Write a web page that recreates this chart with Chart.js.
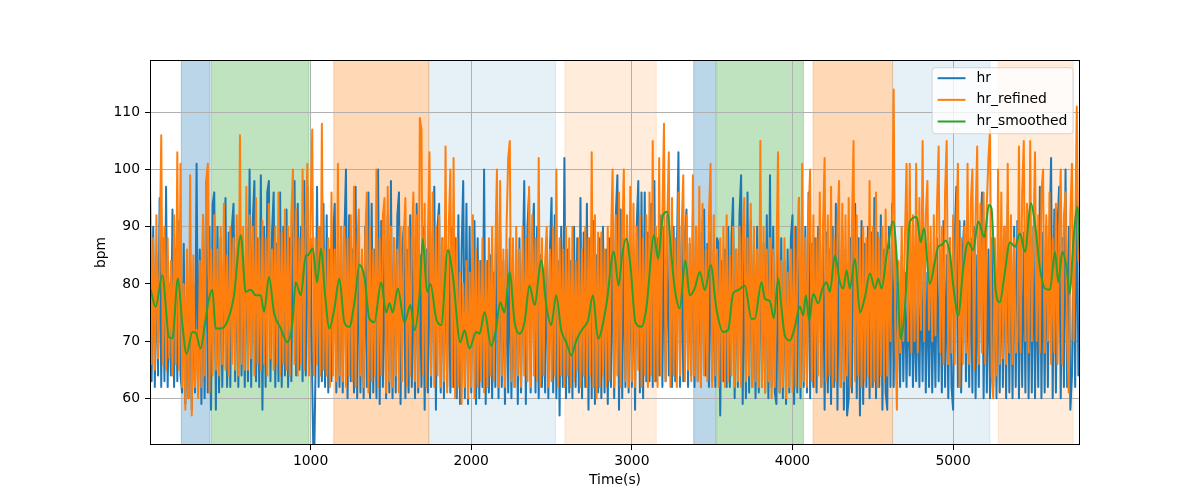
<!DOCTYPE html>
<html>
<head>
<meta charset="utf-8">
<script src="https://cdn.jsdelivr.net/npm/chart.js@4.4.0/dist/chart.umd.min.js"></script>
<style>
html, body { margin: 0; padding: 0; background: #fff; }
#wrap { width: 1200px; height: 500px; }
</style>
</head>
<body>
<div id="wrap"><canvas id="hrChart" width="1200" height="500"></canvas></div>
<script>
// sample times (s) for hr and hr_refined
var sampleTime = [
    0, 10, 20, 30, 40, 50, 60, 70, 80, 90,
    100, 110, 120, 130, 140, 150, 160, 170, 180, 190,
    200, 210, 220, 230, 240, 250, 260, 270, 280, 290,
    300, 310, 320, 330, 340, 350, 360, 370, 380, 390,
    400, 410, 420, 430, 440, 450, 460, 470, 480, 490,
    500, 510, 520, 530, 540, 550, 560, 570, 580, 590,
    600, 610, 620, 630, 640, 650, 660, 670, 680, 690,
    700, 710, 720, 730, 740, 750, 760, 770, 780, 790,
    800, 810, 820, 830, 840, 850, 860, 870, 880, 890,
    900, 910, 920, 930, 940, 950, 960, 970, 980, 990,
    1000, 1010, 1020, 1030, 1040, 1050, 1060, 1070, 1080, 1090,
    1100, 1110, 1120, 1130, 1140, 1150, 1160, 1170, 1180, 1190,
    1200, 1210, 1220, 1230, 1240, 1250, 1260, 1270, 1280, 1290,
    1300, 1310, 1320, 1330, 1340, 1350, 1360, 1370, 1380, 1390,
    1400, 1410, 1420, 1430, 1440, 1450, 1460, 1470, 1480, 1490,
    1500, 1510, 1520, 1530, 1540, 1550, 1560, 1570, 1580, 1590,
    1600, 1610, 1620, 1630, 1640, 1650, 1660, 1670, 1680, 1690,
    1700, 1710, 1720, 1730, 1740, 1750, 1760, 1770, 1780, 1790,
    1800, 1810, 1820, 1830, 1840, 1850, 1860, 1870, 1880, 1890,
    1900, 1910, 1920, 1930, 1940, 1950, 1960, 1970, 1980, 1990,
    2000, 2010, 2020, 2030, 2040, 2050, 2060, 2070, 2080, 2090,
    2100, 2110, 2120, 2130, 2140, 2150, 2160, 2170, 2180, 2190,
    2200, 2210, 2220, 2230, 2240, 2250, 2260, 2270, 2280, 2290,
    2300, 2310, 2320, 2330, 2340, 2350, 2360, 2370, 2380, 2390,
    2400, 2410, 2420, 2430, 2440, 2450, 2460, 2470, 2480, 2490,
    2500, 2510, 2520, 2530, 2540, 2550, 2560, 2570, 2580, 2590,
    2600, 2610, 2620, 2630, 2640, 2650, 2660, 2670, 2680, 2690,
    2700, 2710, 2720, 2730, 2740, 2750, 2760, 2770, 2780, 2790,
    2800, 2810, 2820, 2830, 2840, 2850, 2860, 2870, 2880, 2890,
    2900, 2910, 2920, 2930, 2940, 2950, 2960, 2970, 2980, 2990,
    3000, 3010, 3020, 3030, 3040, 3050, 3060, 3070, 3080, 3090,
    3100, 3110, 3120, 3130, 3140, 3150, 3160, 3170, 3180, 3190,
    3200, 3210, 3220, 3230, 3240, 3250, 3260, 3270, 3280, 3290,
    3300, 3310, 3320, 3330, 3340, 3350, 3360, 3370, 3380, 3390,
    3400, 3410, 3420, 3430, 3440, 3450, 3460, 3470, 3480, 3490,
    3500, 3510, 3520, 3530, 3540, 3550, 3560, 3570, 3580, 3590,
    3600, 3610, 3620, 3630, 3640, 3650, 3660, 3670, 3680, 3690,
    3700, 3710, 3720, 3730, 3740, 3750, 3760, 3770, 3780, 3790,
    3800, 3810, 3820, 3830, 3840, 3850, 3860, 3870, 3880, 3890,
    3900, 3910, 3920, 3930, 3940, 3950, 3960, 3970, 3980, 3990,
    4000, 4010, 4020, 4030, 4040, 4050, 4060, 4070, 4080, 4090,
    4100, 4110, 4120, 4130, 4140, 4150, 4160, 4170, 4180, 4190,
    4200, 4210, 4220, 4230, 4240, 4250, 4260, 4270, 4280, 4290,
    4300, 4310, 4320, 4330, 4340, 4350, 4360, 4370, 4380, 4390,
    4400, 4410, 4420, 4430, 4440, 4450, 4460, 4470, 4480, 4490,
    4500, 4510, 4520, 4530, 4540, 4550, 4560, 4570, 4580, 4590,
    4600, 4610, 4620, 4630, 4640, 4650, 4660, 4670, 4680, 4690,
    4700, 4710, 4720, 4730, 4740, 4750, 4760, 4770, 4780, 4790,
    4800, 4810, 4820, 4830, 4840, 4850, 4860, 4870, 4880, 4890,
    4900, 4910, 4920, 4930, 4940, 4950, 4960, 4970, 4980, 4990,
    5000, 5010, 5020, 5030, 5040, 5050, 5060, 5070, 5080, 5090,
    5100, 5110, 5120, 5130, 5140, 5150, 5160, 5170, 5180, 5190,
    5200, 5210, 5220, 5230, 5240, 5250, 5260, 5270, 5280, 5290,
    5300, 5310, 5320, 5330, 5340, 5350, 5360, 5370, 5380, 5390,
    5400, 5410, 5420, 5430, 5440, 5450, 5460, 5470, 5480, 5490,
    5500, 5510, 5520, 5530, 5540, 5550, 5560, 5570, 5580, 5590,
    5600, 5610, 5620, 5630, 5640, 5650, 5660, 5670, 5680, 5690,
    5700, 5710, 5720, 5730, 5740, 5750, 5760, 5770, 5780, 5790
];
var hr = [
    96, 63, 90, 62, 85, 64, 95, 62, 88, 63,
    97, 62, 80, 64, 93, 62, 86, 63, 91, 64,
    61, 87, 59, 78, 60, 84, 58, 80, 61, 101,
    62, 86, 59, 92, 60, 98, 61, 90, 58, 94,
    96, 58, 90, 61, 88, 62, 84, 95, 62, 89,
    62, 90, 94, 63, 86, 62, 92, 64, 85, 62,
    90, 63, 100, 62, 91, 98, 63, 88, 62, 99,
    58, 90, 62, 96, 98, 63, 89, 96, 62, 87,
    63, 96, 62, 90, 64, 93, 62, 88, 63, 92,
    98, 64, 94, 65, 90, 63, 98, 64, 97, 65,
    88, 63, 45, 64, 97, 62, 90, 63, 94, 62,
    92, 61, 86, 63, 88, 94, 61, 85, 62, 90,
    61, 88, 100, 60, 92, 63, 86, 61, 97, 60,
    89, 61, 84, 60, 90, 62, 96, 60, 94, 61,
    86, 60, 100, 59, 91, 62, 88, 60, 92, 61,
    98, 60, 88, 61, 92, 96, 59, 86, 90, 60,
    86, 61, 92, 62, 88, 60, 94, 61, 85, 62,
    90, 58, 86, 61, 92, 62, 88, 97, 58, 90,
    94, 61, 88, 60, 92, 62, 86, 61, 90, 62,
    88, 60, 92, 59, 86, 98, 60, 94, 59, 90,
    61, 86, 91, 59, 88, 60, 84, 62, 100, 59,
    84, 61, 85, 60, 82, 62, 95, 60, 89, 62,
    84, 59, 86, 61, 88, 60, 82, 62, 86, 59,
    88, 61, 82, 98, 59, 90, 96, 61, 88, 94,
    61, 90, 60, 85, 62, 80, 61, 88, 60, 86,
    95, 61, 92, 60, 84, 57, 90, 62, 102, 60,
    86, 61, 84, 60, 90, 62, 88, 61, 95, 60,
    89, 62, 94, 58, 88, 60, 91, 59, 85, 61,
    88, 60, 90, 61, 86, 59, 88, 62, 90, 60,
    92, 99, 58, 93, 60, 88, 62, 90, 61, 86,
    62, 86, 58, 90, 98, 61, 96, 60, 96, 63,
    89, 63, 94, 62, 98, 63, 88, 64, 92, 62,
    90, 63, 92, 64, 88, 62, 90, 63, 85, 103,
    62, 90, 63, 88, 93, 62, 87, 64, 92, 62,
    90, 63, 89, 62, 91, 93, 64, 87, 62, 89,
    63, 86, 62, 88, 87, 57, 84, 63, 86, 62,
    90, 62, 88, 95, 60, 86, 62, 92, 99, 59,
    88, 60, 96, 61, 91, 62, 88, 60, 90, 61,
    89, 62, 87, 61, 92, 60, 99, 62, 90, 61,
    59, 86, 61, 88, 60, 84, 59, 86, 61, 88,
    92, 59, 90, 61, 95, 60, 88, 62, 90, 61,
    96, 60, 87, 62, 88, 61, 90, 88, 62, 89,
    58, 89, 61, 86, 59, 90, 62, 94, 58, 89,
    62, 90, 58, 86, 57, 60, 88, 61, 90, 94,
    60, 88, 57, 91, 59, 87, 62, 90, 60, 89,
    62, 95, 60, 89, 62, 92, 58, 86, 61, 58,
    90, 62, 94, 62, 86, 63, 80, 62, 85, 63,
    82, 62, 80, 64, 83, 62, 78, 63, 80, 62,
    84, 63, 87, 61, 82, 62, 84, 61, 80, 62,
    88, 63, 84, 61, 91, 62, 85, 60, 88, 62,
    58, 88, 97, 62, 91, 61, 86, 91, 63, 86,
    62, 88, 61, 90, 60, 85, 62, 89, 96, 60,
    89, 61, 86, 60, 88, 62, 85, 60, 86, 61,
    88, 62, 90, 60, 94, 61, 87, 60, 90, 62,
    91, 60, 86, 62, 89, 61, 92, 60, 88, 61,
    90, 60, 86, 62, 97, 60, 89, 61, 90, 62,
    88, 102, 60, 93, 61, 90, 97, 60, 88, 62,
    100, 62, 90, 58, 64, 88, 62, 100, 64, 66
];
var hrRefined = [
    98, 66, 88, 65, 92, 67, 84, 106, 66, 90,
    65, 88, 67, 84, 64, 92, 66, 103, 65, 101,
    62, 80, 58, 86, 60, 99, 57, 85, 62, 72,
    60, 84, 62, 92, 64, 98, 101, 61, 86, 64,
    92, 65, 86, 64, 90, 66, 94, 65, 85, 64,
    90, 66, 88, 65, 92, 64, 106, 66, 90, 65,
    97, 65, 92, 67, 90, 64, 95, 66, 88, 65,
    91, 66, 88, 64, 94, 67, 86, 65, 90, 66,
    96, 64, 89, 66, 93, 65, 90, 64, 92, 100,
    66, 93, 64, 88, 66, 100, 65, 92, 101, 64,
    92, 107, 64, 88, 66, 90, 64, 108, 65, 86,
    64, 88, 62, 96, 64, 86, 63, 101, 64, 90,
    63, 90, 62, 88, 64, 92, 63, 97, 62, 86,
    93, 64, 86, 62, 88, 96, 61, 90, 63, 86,
    64, 100, 62, 88, 64, 92, 95, 61, 97, 63,
    90, 62, 88, 64, 86, 61, 90, 63, 88, 95,
    62, 90, 64, 88, 96, 63, 92, 62, 109, 107,
    64, 94, 62, 88, 103, 64, 96, 62, 90, 64,
    92, 62, 88, 63, 104, 61, 90, 100, 62, 102,
    60, 88, 62, 82, 59, 80, 62, 84, 60, 82,
    62, 92, 60, 86, 62, 84, 63, 88, 61, 84,
    62, 88, 64, 90, 63, 86, 100, 62, 98, 64,
    86, 62, 90, 102, 105, 63, 88, 62, 90, 64,
    86, 62, 90, 64, 88, 63, 97, 62, 92, 64,
    88, 63, 102, 62, 88, 64, 84, 90, 62, 86,
    63, 90, 64, 100, 62, 88, 64, 86, 62, 90,
    64, 88, 62, 90, 63, 84, 65, 88, 62, 86,
    64, 90, 62, 88, 64, 103, 62, 92, 60, 89,
    62, 89, 64, 86, 62, 90, 63, 88, 100, 62,
    92, 64, 96, 62, 88, 100, 63, 92, 62, 97,
    63, 94, 62, 90, 65, 92, 62, 88, 64, 92,
    62, 96, 64, 105, 63, 90, 62, 102, 64, 92,
    108, 63, 90, 103, 62, 95, 64, 88, 62, 96,
    64, 90, 99, 63, 92, 65, 88, 63, 99, 64,
    90, 63, 97, 62, 94, 64, 86, 63, 92, 101,
    62, 92, 64, 86, 62, 88, 63, 90, 62, 92,
    63, 85, 64, 90, 62, 86, 63, 90, 62, 88,
    95, 63, 88, 64, 94, 62, 90, 63, 86, 62,
    105, 62, 90, 61, 86, 63, 88, 60, 86, 62,
    84, 103, 61, 84, 62, 88, 60, 82, 62, 86,
    61, 90, 62, 84, 95, 62, 101, 63, 88, 62,
    92, 100, 63, 92, 62, 88, 64, 96, 62, 90,
    102, 63, 92, 64, 97, 62, 88, 63, 90, 98,
    62, 94, 63, 92, 64, 95, 62, 90, 105, 63,
    92, 64, 88, 62, 90, 63, 88, 64, 98, 62,
    90, 63, 96, 62, 88, 64, 90, 63, 93, 64,
    86, 70, 88, 114, 72, 58, 84, 68, 90, 70,
    88, 101, 70, 101, 68, 92, 70, 101, 68, 95,
    72, 105, 70, 92, 98, 72, 90, 70, 92, 71,
    94, 104, 68, 90, 66, 96, 105, 66, 88, 68,
    92, 66, 90, 101, 62, 88, 66, 90, 68, 101,
    66, 94, 100, 65, 92, 104, 66, 94, 68, 96,
    66, 94, 102, 107, 64, 60, 88, 64, 100, 66,
    96, 67, 90, 66, 101, 68, 92, 66, 88, 68,
    70, 104, 68, 96, 105, 70, 94, 68, 105, 70,
    88, 103, 70, 92, 68, 96, 100, 68, 92, 70,
    96, 66, 88, 68, 94, 66, 90, 100, 66, 92,
    96, 70, 61, 92, 101, 70, 88, 111, 84, 92
];
// hr_smoothed, read at its turning points
var smoothTime = [
    4, 35, 77, 118, 139, 174, 201, 228, 264, 284, 315, 347, 367, 388, 409, 440,
    482, 523, 565, 596, 627, 658, 689, 710, 741, 772, 814, 855, 887, 907, 939, 970,
    982, 1013, 1040, 1065, 1090, 1117, 1148, 1179, 1210, 1241, 1273, 1304, 1335, 1366, 1397, 1439,
    1470, 1491, 1511, 1543, 1584, 1622, 1646, 1678, 1698, 1725, 1746, 1781, 1813, 1854, 1885, 1932,
    1958, 1989, 2031, 2052, 2083, 2124, 2155, 2180, 2207, 2239, 2270, 2301, 2332, 2363, 2394, 2436,
    2467, 2498, 2529, 2560, 2592, 2623, 2654, 2695, 2727, 2758, 2789, 2841, 2887,
    2918, 2939, 2966, 2993, 3022, 3059, 3090, 3138, 3163, 3194, 3221, 3246, 3267, 3298, 3333, 3360,
    3391, 3423, 3454, 3491, 3526, 3568, 3599, 3630, 3661, 3703, 3745, 3765, 3807, 3828, 3859,
    3884, 3911, 3932, 3952, 3984, 4015, 4046, 4067, 4083, 4104, 4129, 4160, 4187, 4212, 4233, 4264,
    4295, 4316, 4337, 4357, 4389, 4420, 4451, 4482, 4513, 4534, 4555, 4586, 4627, 4648, 4673, 4700,
    4731, 4773, 4798, 4818, 4855,
    4886, 4907, 4928, 4953, 4980, 5001, 5032, 5063, 5094, 5125, 5156, 5194, 5223, 5239, 5264, 5291,
    5318, 5354, 5385, 5416, 5447, 5485, 5510, 5541, 5572, 5603, 5634, 5655, 5680, 5707, 5727, 5748,
    5775, 5790
];
var hrSmoothed = [
    79, 76, 81.5, 70.7, 70.5, 81, 73, 67.8, 71.6, 71.5, 68.7, 74, 77.4, 79, 72.2, 72.2,
    73.5, 78, 88.5, 78.6, 79, 78, 78, 75.1, 81.2, 75, 72.2, 69.8, 73.3, 80.3, 78, 85,
    85, 86.2, 80.3, 86.2, 78, 72.2, 75.7, 80.9, 73.3, 72.5, 76.8, 83.3, 81.2, 73.9, 73.3, 80.3,
    75, 76.6, 75, 79.2, 73.3, 76.3, 71.9, 78, 87.9, 78.6, 80, 74, 72.8, 85.9, 81.5, 69.8,
    71.9, 68.7, 71.6, 71.3, 75.1, 69.2, 72.2, 76.8, 75, 82.1, 73.3, 71.3, 73.3, 79.7, 76.3, 84.1,
    76.3, 72.8, 78, 71.9, 69.8, 67.5, 70.1, 72.2, 73.6, 78, 70.4, 76.3, 85.6,
    79.7, 85, 87.9, 82.6, 73.3, 72.5, 75.7, 88.5, 84.4, 92, 92.6, 85, 79.2, 75.7, 84.1, 78,
    79.2, 82.1, 78.9, 83.3, 75.7, 71.6, 71.9, 78.3, 78.9, 79.7, 73.9, 73.9, 80.3, 77.4, 77,
    74, 80.9, 75.7, 71, 70.1, 72.5, 76, 74.5, 78, 73.6, 78.3, 76.6, 79.2, 80.3, 78.6, 85,
    80.3, 79.2, 82.4, 79.2, 84.4, 75, 77.7, 81.8, 79.2, 80.9, 79.2, 85, 90.9, 85, 70.4, 75.7,
    90.9, 91.7, 87.3, 89.7, 80,
    83.8, 86.5, 86.8, 87.6, 85.3, 79.7, 74.5, 82.7, 87.3, 85.9, 90.9, 88.2, 93.8, 93.2, 79.2, 76.8,
    81.2, 87.3, 86.5, 88.8, 85.6, 94.1, 90.3, 82.7, 79.2, 79, 85.6, 80.3, 85.6, 82.7, 78.3, 87.3,
    93.5, 85
];
// shaded phases (s)
var spanStart = [195, 382, 1144, 1736, 2583, 3385, 3528, 4128, 4623, 5281];
var spanEnd = [374, 990, 1736, 2525, 3152, 3522, 4068, 4623, 5229, 5748];
var spanGroup = [0, 1, 2, 3, 4, 0, 1, 2, 3, 4];
var xTicks = [1000, 2000, 3000, 4000, 5000];
var yTicks = [60, 70, 80, 90, 100, 110];

var FONT = 'DejaVu Sans';
var FS = 13.9;
var spanColors = ['rgba(31,119,180,0.3)', 'rgba(44,160,44,0.3)', 'rgba(255,127,14,0.3)',
    'rgba(31,119,180,0.11)', 'rgba(255,127,14,0.15)'];

function toPoints(xs, ys) {
    var out = [];
    for (var i = 0; i < ys.length; i++) out.push({x: xs[i], y: ys[i]});
    return out;
}

var decorPlugin = {
    id: 'decor',
    beforeDraw: function (chart) {
        var ctx = chart.ctx, a = chart.chartArea, xs = chart.scales.x;
        ctx.save();
        ctx.beginPath();
        ctx.rect(a.left, a.top, a.right - a.left, a.bottom - a.top);
        ctx.clip();
        for (var i = 0; i < spanStart.length; i++) {
            var x0 = xs.getPixelForValue(spanStart[i]);
            var x1 = xs.getPixelForValue(spanEnd[i]);
            ctx.fillStyle = spanColors[spanGroup[i]];
            ctx.fillRect(x0, a.top, x1 - x0, a.bottom - a.top);
            ctx.strokeStyle = spanColors[spanGroup[i]];
            ctx.lineWidth = 1;
            ctx.strokeRect(x0, a.top - 2, x1 - x0, a.bottom - a.top + 4);
        }
        ctx.restore();
    },
    afterDatasetsDraw: function (chart) {
        var ctx = chart.ctx, a = chart.chartArea;
        ctx.save();
        ctx.strokeStyle = '#000';
        ctx.lineWidth = 1;
        ctx.strokeRect(Math.round(a.left) + 0.5, Math.round(a.top) + 0.5,
            Math.round(a.right - a.left) - 1, Math.round(a.bottom - a.top) - 1);

        // legend, upper right inside the axes
        ctx.font = FS + 'px "' + FONT + '"';
        var sets = chart.data.datasets, tw = 0;
        sets.forEach(function (d) { tw = Math.max(tw, ctx.measureText(d.label).width); });
        var w = 5.5 + 27.8 + 11.1 + tw + 5.6, h = 66;
        var right = a.right - 7, top = a.top + 7.7, left = right - w;
        ctx.beginPath();
        ctx.roundRect(left, top, w, h, 3);
        ctx.fillStyle = 'rgba(255,255,255,0.8)';
        ctx.fill();
        ctx.strokeStyle = 'rgba(204,204,204,0.8)';
        ctx.stroke();
        sets.forEach(function (d, i) {
            var y = top + 10.5 + i * 21.65;
            ctx.beginPath();
            ctx.moveTo(left + 5.5, y);
            ctx.lineTo(left + 33.3, y);
            ctx.strokeStyle = d.borderColor;
            ctx.lineWidth = 2;
            ctx.stroke();
            ctx.fillStyle = '#000';
            ctx.textBaseline = 'middle';
            ctx.textAlign = 'left';
            ctx.fillText(d.label, left + 44.4, y);
        });
        ctx.restore();
    }
};

var tickFont = {family: FONT, size: FS};
var gridOpts = {color: '#b0b0b0', lineWidth: 1, tickColor: '#000', tickLength: 5, tickWidth: 1};

new Chart(document.getElementById('hrChart'), {
    type: 'line',
    data: {
        datasets: [
            {label: 'hr', data: toPoints(sampleTime, hr), borderColor: '#1f77b4', order: 3},
            {label: 'hr_refined', data: toPoints(sampleTime, hrRefined), borderColor: '#ff7f0e', order: 2},
            {label: 'hr_smoothed', data: toPoints(smoothTime, hrSmoothed), borderColor: '#2ca02c', order: 1,
                cubicInterpolationMode: 'monotone'}
        ]
    },
    options: {
        responsive: false,
        animation: false,
        devicePixelRatio: 1,
        events: [],
        elements: {
            point: {radius: 0},
            line: {borderWidth: 2, tension: 0, fill: false, borderJoinStyle: 'round'}
        },
        datasets: {line: {clip: 0}},
        layout: {padding: {left: 90, right: 120, top: 60, bottom: 0}},
        plugins: {legend: {display: false}, tooltip: {enabled: false}},
        scales: {
            x: {
                type: 'linear', min: 0, max: 5790,
                afterBuildTicks: function (s) { s.ticks = xTicks.map(function (v) { return {value: v}; }); },
                afterFit: function (s) { s.height = 55; s.paddingLeft = 0; s.paddingRight = 0; },
                ticks: {font: tickFont, color: '#000', padding: 3, maxRotation: 0, autoSkip: false,
                    callback: function (v) { return String(v); }},
                grid: gridOpts,
                border: {display: false},
                title: {display: true, text: 'Time(s)', color: '#000', font: tickFont, padding: {top: 0, bottom: 11}}
            },
            y: {
                type: 'linear', min: 51.84, max: 119.14,
                afterBuildTicks: function (s) { s.ticks = yTicks.map(function (v) { return {value: v}; }); },
                afterFit: function (s) { s.width = 60; s.paddingTop = 0; s.paddingBottom = 0; },
                ticks: {font: tickFont, color: '#000', padding: 5, autoSkip: false,
                    callback: function (v) { return String(v); }},
                grid: gridOpts,
                border: {display: false},
                title: {display: true, text: 'bpm', color: '#000', font: tickFont, padding: {top: 3, bottom: 0}}
            }
        }
    },
    plugins: [decorPlugin]
});
</script>
</body>
</html>
